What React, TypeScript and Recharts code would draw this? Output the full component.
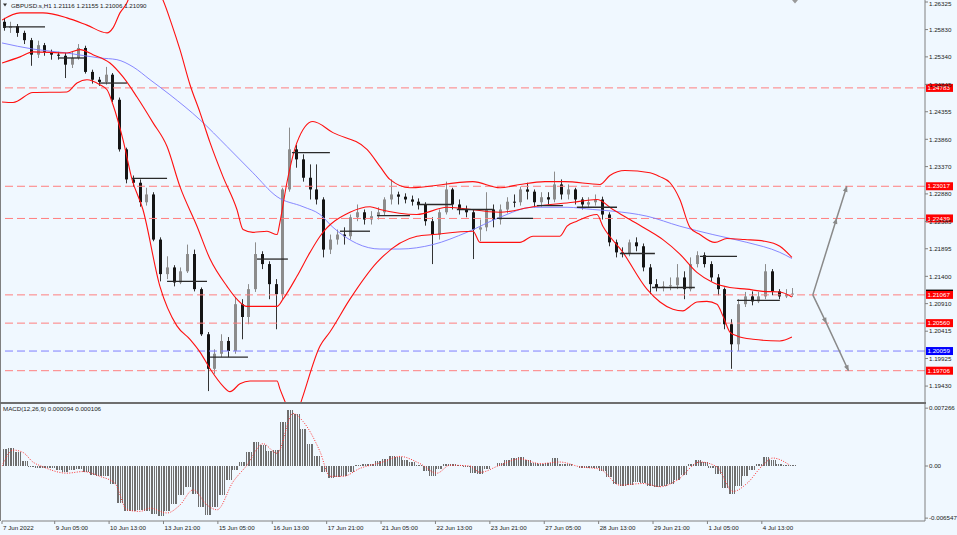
import React from "react";
import { ComposedChart, Bar, Line, XAxis, YAxis, ReferenceLine } from "recharts";

const FONT = "'Liberation Sans', Arial, sans-serif";
const BG = "#F0F8FF";
const AXIS = "#808080";

// GBPUSD H1, drawn as 4-hour candles (bar index = hourly bars since 7 Jun 22:00)
const FIRST_OPEN = 1.2597;
const CLOSES = [
  1.2586, 1.2589, 1.2577, 1.2564, 1.2538, 1.2555, 1.2543, 1.2538, 1.2536, 1.252,
  1.2532, 1.255, 1.2507, 1.2493, 1.2489, 1.2502, 1.2457, 1.2368, 1.2314, 1.2308,
  1.2273, 1.2287, 1.2206, 1.2144, 1.2156, 1.2129, 1.2149, 1.218, 1.2117, 1.2036,
  1.1974, 1.2001, 1.2024, 1.2006, 1.209, 1.2067, 1.2117, 1.218, 1.2162, 1.2126,
  1.2108, 1.2296, 1.2368, 1.235, 1.2317, 1.2296, 1.2278, 1.2188, 1.2206, 1.2215,
  1.2212, 1.2246, 1.2255, 1.2242, 1.2248, 1.2255, 1.2278, 1.2287, 1.2283, 1.2278,
  1.2274, 1.2269, 1.2239, 1.2215, 1.2255, 1.2296, 1.2269, 1.226, 1.2255, 1.2224,
  1.2228, 1.226, 1.2242, 1.226, 1.2274, 1.2273, 1.2296, 1.2292, 1.2273, 1.2282,
  1.2278, 1.2305, 1.2287, 1.2296, 1.2278, 1.2269, 1.2273, 1.2278, 1.2251, 1.2201,
  1.2183, 1.218, 1.2201, 1.2194, 1.2156, 1.2126, 1.212, 1.2122, 1.2124, 1.2138,
  1.2117, 1.2162, 1.2178, 1.2162, 1.2138, 1.2117, 1.2054, 1.2018, 1.209, 1.2104,
  1.2095, 1.2104, 1.2149, 1.2113, 1.2104, 1.2108, 1.2109,
];
const HIGHS = [
  1.2604, 1.2597, 1.2593, 1.2581, 1.2568, 1.2563, 1.2559, 1.2547, 1.2543, 1.2541,
  1.2543, 1.2557, 1.2554, 1.2511, 1.2498, 1.2516, 1.2505, 1.2461, 1.2371, 1.2321,
  1.2314, 1.2299, 1.2291, 1.221, 1.2176, 1.216, 1.2156, 1.2197, 1.2188, 1.212,
  1.204, 1.2009, 1.2036, 1.2031, 1.2103, 1.2099, 1.2126, 1.2201, 1.2185, 1.2167,
  1.2135, 1.2299, 1.2407, 1.2376, 1.2359, 1.2341, 1.2341, 1.2282, 1.2215, 1.2224,
  1.2228, 1.2251, 1.2269, 1.226, 1.2257, 1.2264, 1.2282, 1.2314, 1.2292, 1.2289,
  1.2285, 1.228, 1.2273, 1.2246, 1.226, 1.231, 1.2299, 1.2278, 1.2267, 1.226,
  1.2242, 1.2291, 1.2269, 1.2269, 1.2282, 1.2287, 1.2301, 1.2308, 1.2296, 1.2291,
  1.2291, 1.2328, 1.2314, 1.2305, 1.2299, 1.2282, 1.2282, 1.2287, 1.2283, 1.2255,
  1.2206, 1.2192, 1.2206, 1.221, 1.2199, 1.2162, 1.2135, 1.2131, 1.2138, 1.2162,
  1.2149, 1.2174, 1.2185, 1.2183, 1.2167, 1.2144, 1.212, 1.2063, 1.2099, 1.2112,
  1.2113, 1.2112, 1.2162, 1.2153, 1.2117, 1.2117, 1.2119,
];
const LOWS = [
  1.2581, 1.2577, 1.257, 1.2557, 1.2518, 1.2532, 1.2536, 1.2529, 1.2529, 1.2496,
  1.2514, 1.2529, 1.2504, 1.2486, 1.2482, 1.2484, 1.2453, 1.2364, 1.2307, 1.2301,
  1.2265, 1.2267, 1.2203, 1.2131, 1.2135, 1.2122, 1.2126, 1.2146, 1.2113, 1.2033,
  1.1934, 1.1965, 1.1995, 1.1995, 1.2001, 1.2027, 1.2054, 1.2112, 1.2153, 1.2099,
  1.2045, 1.2099, 1.2292, 1.2335, 1.231, 1.2278, 1.2269, 1.2174, 1.218, 1.2197,
  1.2197, 1.2206, 1.2239, 1.2233, 1.2233, 1.2242, 1.2249, 1.2269, 1.2269, 1.2271,
  1.2267, 1.226, 1.2231, 1.2162, 1.2206, 1.2251, 1.226, 1.2251, 1.2246, 1.2171,
  1.2203, 1.2221, 1.2228, 1.2233, 1.2253, 1.2264, 1.2267, 1.2278, 1.2264, 1.2265,
  1.2269, 1.2273, 1.2278, 1.2278, 1.2269, 1.226, 1.2264, 1.2267, 1.2242, 1.2194,
  1.2174, 1.2174, 1.2176, 1.2185, 1.2149, 1.2108, 1.2113, 1.2113, 1.2115, 1.2117,
  1.2099, 1.2113, 1.2156, 1.2156, 1.2131, 1.2106, 1.2045, 1.1974, 1.2006, 1.2085,
  1.2088, 1.2092, 1.2099, 1.2106, 1.2099, 1.2101, 1.2103,
];

// Bollinger bands and moving average, [bar, price]
const BB_UPPER = [
  [0, 1.26], [10.6, 1.2613], [24.1, 1.2613], [38.2, 1.2604], [50, 1.2591], [61.8, 1.2577],
  [65.3, 1.2586], [69.4, 1.2613], [73.5, 1.2631], [78.2, 1.2672], [84.1, 1.2699], [90, 1.2663],
  [94.7, 1.2636], [100, 1.2591], [104.7, 1.2547], [110.6, 1.2484], [116.5, 1.2434], [122.4, 1.238],
  [130, 1.2319], [138.2, 1.226], [141.8, 1.2224], [147.6, 1.2219], [155.9, 1.2221], [161.8, 1.2215],
  [163.5, 1.2237], [167.6, 1.2308], [173.5, 1.238], [182.9, 1.2418], [194.7, 1.2398], [214.7, 1.2368],
  [222.4, 1.2337], [228.2, 1.2314], [240, 1.2299], [277, 1.231], [293, 1.2299], [304.7, 1.2305],
  [319.4, 1.231], [331.2, 1.231], [351.8, 1.2305], [357.6, 1.2321], [366.5, 1.233], [381.2, 1.2326],
  [387, 1.2319], [393, 1.2308], [398.8, 1.2278], [404.7, 1.2228], [410.6, 1.2215], [419.4, 1.2201],
  [426.5, 1.2208], [437, 1.2206], [448.8, 1.2203], [457.6, 1.2194], [464.7, 1.2174],
];
const BB_MIDDLE = [
  [0, 1.2523], [10.6, 1.2534], [18.2, 1.2543], [38.2, 1.2541], [45.9, 1.2547], [53.5, 1.2538],
  [63.5, 1.2523], [71.2, 1.2498], [79.4, 1.2462], [88.8, 1.2416], [97.1, 1.2373], [104.7, 1.2301],
  [114.7, 1.223], [122.4, 1.2171], [132.4, 1.2122], [138.2, 1.2099], [144.1, 1.2086], [161.8, 1.2086],
  [165.3, 1.2099], [173.5, 1.214], [181.2, 1.2183], [187.1, 1.2212], [204.7, 1.2255], [216.5, 1.2265],
  [222.4, 1.226], [244.1, 1.2251], [261.8, 1.2264], [292.9, 1.2255], [312.4, 1.2265], [335.9, 1.2273],
  [350, 1.2278], [359.4, 1.226], [369.4, 1.2242], [379.4, 1.2224], [388.8, 1.2206], [398.8, 1.218],
  [408.8, 1.2147], [418.2, 1.2129], [428.2, 1.212], [438.2, 1.2117], [447.6, 1.2113], [457.6, 1.2112],
  [464.7, 1.2103],
];
const BB_LOWER = [
  [0, 1.2453], [6.5, 1.2452], [18.2, 1.247], [38.2, 1.2471], [44.1, 1.2487], [50, 1.2493],
  [57.6, 1.2484], [61.8, 1.2475], [65.3, 1.2448], [71.2, 1.2385], [76.5, 1.2314], [82.9, 1.226],
  [92.9, 1.2122], [102.9, 1.2051], [110.6, 1.2027], [116.5, 1.2004], [122.4, 1.1974], [130, 1.1943],
  [134.1, 1.1933], [140, 1.1947], [145.9, 1.1952], [161.8, 1.1952], [163.5, 1.1938], [166.5, 1.1915],
  [170.6, 1.1884], [173.5, 1.1893], [176.5, 1.192], [187.1, 1.2015], [192.9, 1.204], [204.7, 1.2099],
  [220.6, 1.2165], [244.1, 1.2212], [253.5, 1.2215], [277.1, 1.2221], [281.2, 1.2201], [304.7, 1.2201],
  [312.4, 1.2212], [328.2, 1.2212], [332.4, 1.223], [338.2, 1.2239], [350, 1.2251], [353.5, 1.223],
  [365.3, 1.2183], [379.4, 1.2117], [387.1, 1.2094], [394.7, 1.2081], [400.6, 1.2078], [404.7, 1.2086],
  [408.8, 1.2094], [414.7, 1.2095], [420.6, 1.209], [424.1, 1.2069], [428.2, 1.204], [432.4, 1.2033],
  [441.8, 1.2027], [457.6, 1.2024], [464.7, 1.2031],
];
const MA_BLUE = [
  [0, 1.2559], [18.2, 1.2548], [38.2, 1.2541], [57.6, 1.2532], [67.6, 1.2529], [77.1, 1.2516],
  [87.1, 1.2493], [98.8, 1.2466], [116.5, 1.2421], [132.4, 1.2373], [147.6, 1.2326], [161.8, 1.2283],
  [177.1, 1.2265], [187.1, 1.2251], [194.7, 1.2228], [222.4, 1.2189], [234.1, 1.2189], [253.5, 1.2197],
  [273.5, 1.2219], [292.9, 1.2246], [312.4, 1.2264], [332.4, 1.2264], [347.6, 1.226], [359.4, 1.2257],
  [379.4, 1.2248], [398.8, 1.223], [418.2, 1.2215], [438.2, 1.2201], [457.6, 1.2183], [464.7, 1.2172],
];

// daily open lines [from bar, to bar, price]
const DAY_LINES = [
  [0.6, 25.3, 1.2588], [32.9, 48.8, 1.2532], [57.6, 73.5, 1.2487], [76.5, 97.1, 1.2316],
  [97.1, 120.6, 1.2131], [122.4, 144.7, 1.1995], [150, 168.2, 1.2171], [170.6, 192.9, 1.2362],
  [198.8, 216.5, 1.2221], [220.6, 240, 1.2249], [244.1, 265.3, 1.2269], [267.6, 288.8, 1.226],
  [291.2, 312.4, 1.2244], [314.7, 330, 1.2267], [338.2, 361.8, 1.2264], [363.5, 384.1, 1.2181],
  [382.4, 407.6, 1.212], [410.6, 432.4, 1.2176], [432.4, 457.6, 1.2097],
];

const RED_LEVELS = [1.24783, 1.23017, 1.22439, 1.21067, 1.2056, 1.19706];
const BLUE_LEVEL = 1.20059;
const BID = 1.2109;

const ARROW_UP = [[477, 1.21067], [491, 1.22439], [497, 1.23017]];
const ARROW_DOWN = [[477, 1.21067], [485, 1.2056], [498, 1.19706]];

// MACD(12,26,9) histogram per 4-hour slot, and signal [bar, value]
const MACD = [
  0.0021, 0.0022, 0.0017, 0.0006, -0.0001, -0.0002, -0.0003, -0.0003, -0.0005, -0.0007,
  -0.0005, -0.0004, -0.0008, -0.0011, -0.0013, -0.0013, -0.0023, -0.0047, -0.0057, -0.0057,
  -0.0055, -0.0056, -0.006, -0.0063, -0.0056, -0.0048, -0.0037, -0.0026, -0.0035, -0.0052,
  -0.0061, -0.0051, -0.0036, -0.0018, -0.0005, 0.0005, 0.0017, 0.003, 0.0027, 0.0019,
  0.002, 0.0055, 0.007, 0.0065, 0.0047, 0.0028, 0.0013, -0.0008, -0.0015, -0.0014,
  -0.0012, -0.0008, 0.0001, 0.0002, 0.0003, 0.0006, 0.0009, 0.0013, 0.0011, 0.0008,
  0.0005, 0.0001, -0.0006, -0.0013, -0.0004, 0.0002, 0.0003, 0.0001, -0.0001, -0.0009,
  -0.001, -0.0004, 0.0, 0.0004, 0.0007, 0.001, 0.0011, 0.0007, 0.0004, 0.0003,
  0.0004, 0.001, 0.0002, 0.0003, 0.0, -0.0002, -0.0002, -0.0003, -0.0006, -0.0014,
  -0.0022, -0.0025, -0.0024, -0.002, -0.0021, -0.0025, -0.0026, -0.0025, -0.0022, -0.0017,
  -0.0011, 0.0002, 0.0007, 0.0005, -0.0002, -0.001, -0.0028, -0.0035, -0.0025, -0.0013,
  -0.0005, 0.0002, 0.0011, 0.0007, 0.0002, 0.0001, 0.0001,
];
const SIGNAL = [
  [0, 0], [6.5, 0.002], [12.4, 0.0017], [18.2, 0.0005], [24.1, -0.0001], [38.2, -0.0009],
  [47.6, -0.0007], [57.6, -0.0013], [66.5, -0.0022], [73.5, -0.0055], [81.2, -0.0057], [87.1, -0.0053],
  [97.1, -0.0059], [104.7, -0.0049], [112.4, -0.003], [120.6, -0.0049], [126.5, -0.0055], [135.9, -0.002],
  [144.1, 0.0001], [153.5, 0.0028], [161.8, 0.0016], [171.2, 0.0066], [177.1, 0.0056], [187.1, 0.0018],
  [192.9, -0.0013], [200.6, -0.0013], [210.6, -0.0003], [224.1, 0.0005], [234.1, 0.0012], [245.9, 0.0003],
  [255.9, -0.0009], [263.5, 0.0001], [275.3, 0], [281.2, -0.0008], [292.9, 0.0001], [304.7, 0.0009],
  [316.5, 0.0003], [328.2, 0.0005], [340, -0.0001], [351.8, -0.0004], [363.5, -0.0024], [377.1, -0.0022],
  [387.1, -0.0026], [397.1, -0.0018], [410.6, 0.0005], [420.6, -0.0001], [430, -0.0032], [438.2, -0.0022],
  [447.6, 0.0001], [453.5, 0.001], [463.5, 0.0001],
];

const PRICE_TICKS = [
  1.26325, 1.2583, 1.2534, 1.24845, 1.24355, 1.2386, 1.2337, 1.2288, 1.22385, 1.21895,
  1.214, 1.2091, 1.20415, 1.19925, 1.1943,
];
const MACD_TICKS = [-0.006547, 0, 0.007266];
const MACD_TICK_LABELS = ["-0.006547", "0.00", "0.007266"];
const TIME_TICKS = [0, 31, 63, 95, 127, 159, 191, 223, 255, 287, 319, 351, 383, 415, 447];
const TIME_LABELS = [
  "7 Jun 2022", "9 Jun 05:00", "10 Jun 13:00", "13 Jun 21:00", "15 Jun 05:00",
  "16 Jun 13:00", "17 Jun 21:00", "21 Jun 05:00", "22 Jun 13:00", "23 Jun 21:00",
  "27 Jun 05:00", "28 Jun 13:00", "29 Jun 21:00", "1 Jul 05:00", "4 Jul 13:00",
];

const candles = CLOSES.map((close, i) => ({
  bar: i * 4 + 1,
  open: i === 0 ? FIRST_OPEN : CLOSES[i - 1],
  close,
  high: HIGHS[i],
  low: LOWS[i],
  range: [LOWS[i], HIGHS[i]],
}));
const macdRows = MACD.map((v, i) => ({ bar: i * 4 + 1.5, macd: v }));
const pts = (list: number[][]) => list.map(([bar, p]) => ({ bar, p }));

const X_DOMAIN = [0, 543];
const PRICE_DOMAIN = [1.19144, 1.26361];
const MACD_DOMAIN = [-0.00691, 0.00779];

function Candle(props: any) {
  const { x, y, width, height, payload } = props;
  const top = Math.min(y, y + height);
  const bottom = Math.max(y, y + height);
  const { open, close, high, low } = payload;
  const span = high - low || 1e-9;
  const toY = (p: number) => top + ((high - p) / span) * (bottom - top);
  const cx = Math.round(x + width / 2) + 0.5;
  const up = close >= open;
  const y1 = toY(open);
  const y2 = toY(close);
  const col = up ? "#8c8c8c" : "#151515";
  return (
    <g>
      <line x1={cx} x2={cx} y1={top} y2={bottom} stroke={up ? "#8c8c8c" : "#333"} strokeWidth={1} />
      <rect x={cx - 1.5} y={Math.min(y1, y2)} width={3} height={Math.max(1, Math.abs(y1 - y2))} fill={col} />
    </g>
  );
}

// one 4-hour value drawn as four hourly stripes, like the terminal's histogram
function Stripes(props: any) {
  const { x, y, width, height } = props;
  if (!height) return null;
  const top = Math.min(y, y + height);
  const h = Math.abs(height);
  const cx = x + width / 2;
  return (
    <g shapeRendering="crispEdges">
      {[0, 1, 2, 3].map((i) => (
        <rect key={i} x={Math.round(cx - 3.4 + i * 1.7)} y={top} width={1} height={h} fill="#6e6e6e" />
      ))}
    </g>
  );
}

function PriceTick(props: any) {
  const { x, y, payload } = props;
  const yy = Math.max(y, 4);
  return (
    <text x={x} y={yy + 2.2} fontSize={6.2} fontFamily={FONT} fill="#222">
      {payload.value.toFixed(5)}
    </text>
  );
}

function MacdTick(props: any) {
  const { x, y, payload } = props;
  const label = MACD_TICK_LABELS[MACD_TICKS.indexOf(payload.value)];
  return (
    <text x={x} y={y + 2.2} fontSize={6.2} fontFamily={FONT} fill="#222">
      {label}
    </text>
  );
}

function TimeTick(props: any) {
  const { x, y, payload } = props;
  const label = TIME_LABELS[TIME_TICKS.indexOf(payload.value)];
  return (
    <text x={x + 1} y={y + 5.5} fontSize={6.2} fontFamily={FONT} fill="#222">
      {label}
    </text>
  );
}

const priceBox = (text: string, fill: string) => (props: any) => {
  const vb = props.viewBox;
  const x = vb.x + vb.width + 1;
  const y = vb.y;
  return (
    <g>
      <rect x={x} y={y - 4} width={27} height={8} fill={fill} />
      <text x={x + 1.5} y={y + 2.2} fontSize={6.2} fontFamily={FONT} fill="#fff">
        {text}
      </text>
    </g>
  );
};

export default function App() {
  return (
    <div style={{ position: "absolute", left: 0, top: 0, width: 957, height: 535, background: BG, overflow: "hidden" }}>
      <svg width={0} height={0} style={{ position: "absolute" }}>
        <defs>
          <marker id="arrowHead" viewBox="0 0 10 10" refX="9" refY="5" markerWidth="8" markerHeight="6"
            markerUnits="userSpaceOnUse" orient="auto">
            <path d="M0,1 L10,5 L0,9 z" fill="#8a8a8a" />
          </marker>
        </defs>
      </svg>

      <div style={{ position: "absolute", left: 0, top: 0 }}>
        <ComposedChart width={957} height={402} data={candles} margin={{ top: 0, right: 0, bottom: 0, left: 2 }}>
          <XAxis type="number" dataKey="bar" domain={X_DOMAIN} hide allowDataOverflow />
          <YAxis orientation="right" width={32} domain={PRICE_DOMAIN} ticks={PRICE_TICKS} interval={0}
            allowDataOverflow tick={<PriceTick />} tickSize={3} tickMargin={1}
            axisLine={{ stroke: AXIS }} tickLine={{ stroke: AXIS }} />
          {RED_LEVELS.map((v) => (
            <ReferenceLine key={v} y={v} stroke="#ff7f7f" strokeDasharray="8 4" strokeWidth={1} />
          ))}
          <ReferenceLine y={BLUE_LEVEL} stroke="#7f7fff" strokeDasharray="8 4" strokeWidth={1} />
          <Line data={pts(MA_BLUE)} dataKey="p" type="monotone" stroke="#7b7bff" strokeWidth={0.9} dot={false} isAnimationActive={false} />
          <Line data={pts(BB_UPPER)} dataKey="p" type="monotone" stroke="#ff1010" strokeWidth={1.1} dot={false} isAnimationActive={false} />
          <Line data={pts(BB_MIDDLE)} dataKey="p" type="monotone" stroke="#ff1010" strokeWidth={1.1} dot={false} isAnimationActive={false} />
          <Line data={pts(BB_LOWER)} dataKey="p" type="monotone" stroke="#ff1010" strokeWidth={1.1} dot={false} isAnimationActive={false} />
          <Bar dataKey="range" barSize={4} shape={<Candle />} isAnimationActive={false} />
          {DAY_LINES.map(([a, b, p], i) => (
            <ReferenceLine key={"d" + i} segment={[{ x: a, y: p }, { x: b, y: p }]} stroke="#2a2a2a" strokeWidth={1.3} />
          ))}
          <Line data={pts(ARROW_UP)} dataKey="p" type="linear" stroke="#8a8a8a" strokeWidth={1.5} dot={false}
            isAnimationActive={false} markerMid="url(#arrowHead)" markerEnd="url(#arrowHead)" />
          <Line data={pts(ARROW_DOWN)} dataKey="p" type="linear" stroke="#8a8a8a" strokeWidth={1.5} dot={false}
            isAnimationActive={false} markerMid="url(#arrowHead)" markerEnd="url(#arrowHead)" />
          <ReferenceLine y={BID} stroke="none" label={priceBox("1.21090", "#000")} />
          {RED_LEVELS.map((v) => (
            <ReferenceLine key={"l" + v} y={v} stroke="none" label={priceBox(v.toFixed(5), "#ff0000")} />
          ))}
          <ReferenceLine y={BLUE_LEVEL} stroke="none" label={priceBox(BLUE_LEVEL.toFixed(5), "#0000ff")} />
        </ComposedChart>
      </div>

      <div style={{ position: "absolute", left: 0, top: 404 }}>
        <ComposedChart width={957} height={131} data={macdRows} margin={{ top: 0, right: 0, bottom: 0, left: 2 }}>
          <XAxis type="number" dataKey="bar" domain={X_DOMAIN} allowDataOverflow ticks={TIME_TICKS} interval={0}
            height={14} tick={<TimeTick />} tickSize={3} tickMargin={0}
            axisLine={{ stroke: AXIS }} tickLine={{ stroke: AXIS }} />
          <YAxis orientation="right" width={32} domain={MACD_DOMAIN} ticks={MACD_TICKS} interval={0}
            allowDataOverflow tick={<MacdTick />} tickSize={3} tickMargin={1}
            axisLine={{ stroke: AXIS }} tickLine={{ stroke: AXIS }} />
          <Bar dataKey="macd" barSize={6.8} shape={<Stripes />} isAnimationActive={false} />
          <Line data={pts(SIGNAL)} dataKey="p" type="monotone" stroke="#ff3030" strokeWidth={1}
            strokeDasharray="1 1.5" dot={false} isAnimationActive={false} />
        </ComposedChart>
      </div>

      <svg width={957} height={535} style={{ position: "absolute", left: 0, top: 0, pointerEvents: "none" }}>
        <line x1={0.5} x2={0.5} y1={0} y2={521} stroke={AXIS} strokeWidth={1} />
        <rect x={0} y={402} width={926} height={2} fill="#6f6f6f" />
        <path d="M3,3.5 L7,3.5 L5,6.5 z" fill="#333" />
        <text x={11} y={8} fontSize={6.2} fontFamily={FONT} fill="#222">
          GBPUSD.s,H1  1.21116 1.21155 1.21006 1.21090
        </text>
        <text x={3} y={411} fontSize={6.2} fontFamily={FONT} fill="#222">
          MACD(12,26,9) 0.000094 0.000106
        </text>
        <path d="M792,0 L798,0 L795,3.5 z" fill="#9a9a9a" />
      </svg>
    </div>
  );
}
